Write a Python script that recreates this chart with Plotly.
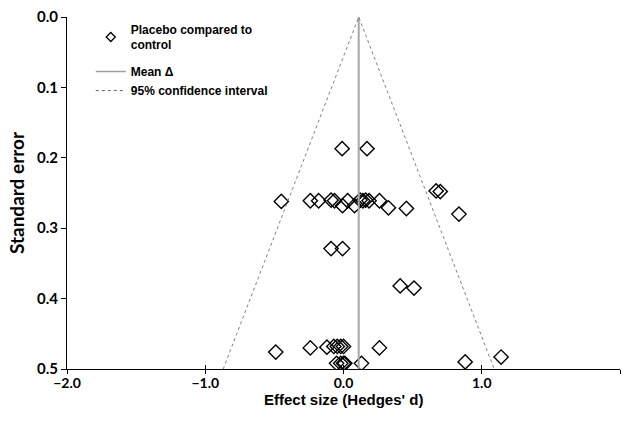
import plotly.graph_objects as go

# Study effect sizes (Hedges' d) and standard errors
effect = [-0.01, 0.17,
          -0.45, -0.24, -0.18, -0.09, -0.065, -0.007, 0.03, 0.08, 0.12, 0.14, 0.16, 0.185, 0.26,
          0.325, 0.455, 0.67, 0.70, 0.835,
          -0.09, -0.007, 0.41, 0.51,
          -0.49, -0.24, -0.12, -0.07, -0.045, -0.02, 0.0, 0.26,
          -0.05, -0.02, 0.0, 0.01, 0.13, 0.88, 1.14]
se = [0.187, 0.187,
      0.262, 0.261, 0.261, 0.260, 0.261, 0.268, 0.261, 0.268, 0.260, 0.261, 0.260, 0.261, 0.261,
      0.271, 0.272, 0.247, 0.248, 0.280,
      0.329, 0.329, 0.382, 0.385,
      0.476, 0.470, 0.469, 0.468, 0.468, 0.468, 0.468, 0.470,
      0.492, 0.492, 0.492, 0.492, 0.492, 0.490, 0.483]

mean_delta = 0.11
se_range = [0.0, 0.5]
ci_left = [mean_delta - 1.96 * s for s in se_range]
ci_right = [mean_delta + 1.96 * s for s in se_range]

fig = go.Figure()
# data traces
fig.add_trace(go.Scatter(
    x=effect, y=se, mode="markers", showlegend=False,
    marker=dict(symbol="diamond-open", size=11, color="black", line=dict(width=1.4, color="black")),
))
fig.add_trace(go.Scatter(
    x=[mean_delta, mean_delta], y=se_range, mode="lines", showlegend=False,
    line=dict(color="#a6a6a6", width=2),
))
fig.add_trace(go.Scatter(
    x=ci_left[::-1] + [mean_delta] + ci_right[1:], y=se_range[::-1] + [0.0] + se_range[1:],
    mode="lines", showlegend=False, xaxis="x2",
    line=dict(color="#808080", width=1, dash="dot"),
))
# legend entries
fig.add_trace(go.Scatter(
    x=[None], y=[None], mode="markers", name="Placebo compared to<br>control", legendgroup="a",
    marker=dict(symbol="diamond-open", size=7, color="black", line=dict(width=1.3, color="black")),
))
fig.add_trace(go.Scatter(
    x=[None], y=[None], mode="lines", name="Mean Δ", legendgroup="b",
    line=dict(color="#a0a0a0", width=1.5),
))
fig.add_trace(go.Scatter(
    x=[None], y=[None], mode="lines", name="95% confidence interval", legendgroup="b",
    line=dict(color="#606060", width=1, dash="dot"),
))

tickfont = dict(family="Lato, Open Sans", size=15, color="black", weight="bold")

fig.update_layout(
    width=628, height=423,
    margin=dict(l=67, r=8, t=17, b=54),
    plot_bgcolor="white", paper_bgcolor="white",
    showlegend=True,
    legend=dict(x=0.043, y=1.006, xanchor="left", yanchor="top", bgcolor="rgba(0,0,0,0)",
                font=dict(family="Liberation Sans, Arial", size=12, color="black", weight="bold"),
                itemwidth=30, tracegroupgap=8),
    xaxis=dict(range=[-2, 2], dtick=1, tickformat=".1f", showgrid=False, zeroline=False,
               showline=True, linecolor="black", linewidth=1,
               ticks="outside", ticklen=4, tickcolor="black", ticklabelstandoff=-3,
               tickfont=dict(family="Lato, Open Sans", size=14, color="black", weight="bold")),
    xaxis2=dict(range=[-2, 2], dtick=1, overlaying="x", anchor="y", side="bottom",
                showgrid=False, zeroline=False, showline=False, showticklabels=False,
                ticks="inside", ticklen=4, tickcolor="black"),
    yaxis=dict(range=[0.5, 0.0], dtick=0.1, tickformat=".1f", showgrid=False, zeroline=False,
               showline=True, linecolor="black", linewidth=1,
               ticks="outside", ticklen=5, tickcolor="black",
               tickfont=tickfont,
               title=dict(text="<b>Standard error</b>", standoff=7,
                          font=dict(family="Lato, Open Sans", size=19, color="black"))),
    annotations=[dict(text="<b>Effect size (Hedges' d)</b>", xref="paper", yref="paper",
                      x=0.5, y=-0.087, xanchor="center", yanchor="middle", showarrow=False,
                      font=dict(family="Liberation Sans, Arial", size=15, color="black"))],
)

fig.write_html("out.html")
